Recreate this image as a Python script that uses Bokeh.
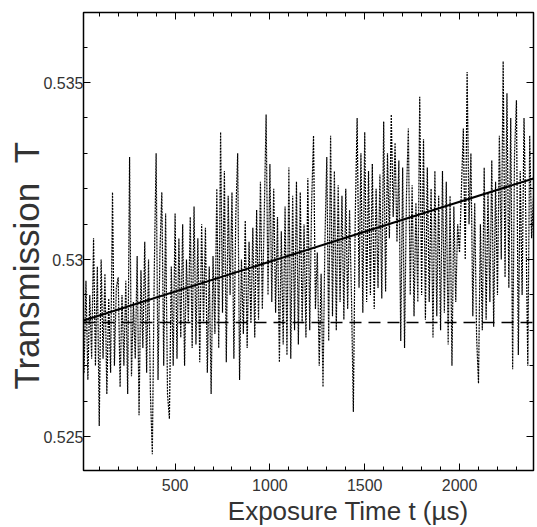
from bokeh.plotting import figure
from bokeh.models import LinearAxis, SingleIntervalTicker, CustomJSTickFormatter
from bokeh.embed import file_html
from bokeh.resources import INLINE

# sampling grid of the measured transmission (microseconds)
t_us = list(range(20, 2400, 10))

transmission = [
    0.5268, 0.5294, 0.5266, 0.5290, 0.5272, 0.5306, 0.5270, 0.5298,
    0.5253, 0.5300, 0.5272, 0.5296, 0.5262, 0.5289, 0.5268, 0.5319, 0.5270, 0.5292,
    0.5295, 0.5264, 0.5290, 0.5270, 0.5294, 0.5262, 0.5329, 0.5267, 0.5288, 0.5272,
    0.5301, 0.5256, 0.5297, 0.5275, 0.5305, 0.5268, 0.5300, 0.5262, 0.5245, 0.5296,
    0.5330, 0.5266, 0.5302, 0.5319, 0.5270, 0.5313, 0.5262, 0.5255, 0.5298, 0.5270,
    0.5313, 0.5272, 0.5306, 0.5278, 0.5310, 0.5270, 0.5300, 0.5282, 0.5312, 0.5275,
    0.5315, 0.5276, 0.5306, 0.5271, 0.5310, 0.5282, 0.5309, 0.5268, 0.5298, 0.5262,
    0.5301, 0.5279, 0.5320, 0.5275, 0.5336, 0.5285, 0.5325, 0.5271, 0.5318, 0.5290,
    0.5319, 0.5272, 0.5312, 0.5330, 0.5266, 0.5300, 0.5279, 0.5311, 0.5275, 0.5305,
    0.5282, 0.5309, 0.5278, 0.5314, 0.5283, 0.5322, 0.5286, 0.5312, 0.5341, 0.5290,
    0.5327, 0.5288, 0.5320, 0.5285, 0.5312, 0.5271, 0.5308, 0.5276, 0.5315, 0.5273,
    0.5326, 0.5272, 0.5318, 0.5280, 0.5322, 0.5276, 0.5319, 0.5282, 0.5310, 0.5278,
    0.5323, 0.5280, 0.5316, 0.5335, 0.5286, 0.5302, 0.5270, 0.5296, 0.5264, 0.5305,
    0.5329, 0.5277, 0.5335, 0.5284, 0.5325, 0.5280, 0.5321, 0.5288, 0.5318, 0.5283,
    0.5320, 0.5286, 0.5314, 0.5290, 0.5257, 0.5312, 0.5340, 0.5292, 0.5330, 0.5285,
    0.5336, 0.5288, 0.5325, 0.5290, 0.5327, 0.5286, 0.5320, 0.5292, 0.5324, 0.5289,
    0.5339, 0.5291, 0.5330, 0.5306, 0.5341, 0.5312, 0.5333, 0.5305, 0.5328, 0.5277,
    0.5326, 0.5275, 0.5318, 0.5337, 0.5290, 0.5321, 0.5284, 0.5316, 0.5288, 0.5346,
    0.5290, 0.5334, 0.5283, 0.5326, 0.5288, 0.5320, 0.5278, 0.5325, 0.5284, 0.5318,
    0.5280, 0.5325, 0.5285, 0.5322, 0.5276, 0.5318, 0.5270, 0.5315, 0.5288, 0.5310,
    0.5302, 0.5320, 0.5337, 0.5300, 0.5353, 0.5310, 0.5330, 0.5284, 0.5316, 0.5278,
    0.5265, 0.5310, 0.5280, 0.5326, 0.5283, 0.5319, 0.5288, 0.5328, 0.5281, 0.5322,
    0.5290, 0.5335, 0.5300, 0.5356, 0.5295, 0.5347, 0.5292, 0.5340, 0.5269, 0.5330,
    0.5345, 0.5273, 0.5325, 0.5290, 0.5340, 0.5310, 0.5270, 0.5335, 0.5306, 0.5318,
]

# linear fit (solid) and initial level (dashed)
fit_t = [17, 2390]
fit_T = [0.52828, 0.53229]
base_t = [17, 2390]
base_T = [0.52822, 0.52822]

x_ticks_interval = 500
y_ticks_interval = 0.005

NB = "\u00a0"
# titles padded with non-breaking spaces so they sit off-centre as in the original
x_title = NB * 13 + "Exposure Time  t  (\u00b5s)"
y_title = "Transmission" + NB * 2 + "T" + NB * 5

FONT = "Liberation Sans"
TXT = "#333333"

p = figure(frame_width=450, frame_height=458, x_range=(17, 2390), y_range=(0.52404, 0.53698),
           output_backend="svg", toolbar_location=None,
           min_border_left=83, min_border_right=4, min_border_top=12, min_border_bottom=55)

p.xgrid.visible = False
p.ygrid.visible = False
p.outline_line_color = "black"
p.outline_line_width = 1.5
p.background_fill_color = "white"
p.border_fill_color = "white"

p.line(t_us, transmission, line_color="#000000", line_width=1.2, line_dash="2 1")
p.line(fit_t, fit_T, line_color="black", line_width=2)
p.line(base_t, base_T, line_color="black", line_width=1.5, line_dash="12 7")

fmt = CustomJSTickFormatter(code="return String(Number(tick.toFixed(4)));")
blank = CustomJSTickFormatter(code="return '';")


def style(ax, interval, labels=True):
    ax.ticker = SingleIntervalTicker(interval=interval, num_minor_ticks=5)
    ax.axis_line_color = None
    ax.major_tick_in = 7
    ax.major_tick_out = 0
    ax.minor_tick_in = 4
    ax.minor_tick_out = 0
    ax.major_tick_line_color = "black"
    ax.minor_tick_line_color = "black"
    if labels:
        ax.major_label_text_font = FONT
        ax.major_label_text_font_size = "16px"
        ax.major_label_text_color = TXT
        ax.axis_label_text_font = FONT
        ax.axis_label_text_font_style = "normal"
        ax.axis_label_text_color = TXT
    else:
        ax.formatter = blank
        ax.major_label_standoff = 0


style(p.xaxis[0], x_ticks_interval)
style(p.yaxis[0], y_ticks_interval)
p.yaxis[0].formatter = fmt
p.xaxis[0].axis_label = x_title
p.xaxis[0].axis_label_text_font_size = "26px"
p.xaxis[0].major_label_standoff = 8
p.xaxis[0].axis_label_standoff = 2
p.yaxis[0].axis_label = y_title
p.yaxis[0].axis_label_text_font_size = "35px"
p.yaxis[0].major_label_standoff = 0
p.yaxis[0].axis_label_standoff = -6

top = LinearAxis()
style(top, x_ticks_interval, labels=False)
p.add_layout(top, "above")
right = LinearAxis()
style(right, y_ticks_interval, labels=False)
p.add_layout(right, "right")

open("out.html", "w").write(file_html(p, INLINE))
